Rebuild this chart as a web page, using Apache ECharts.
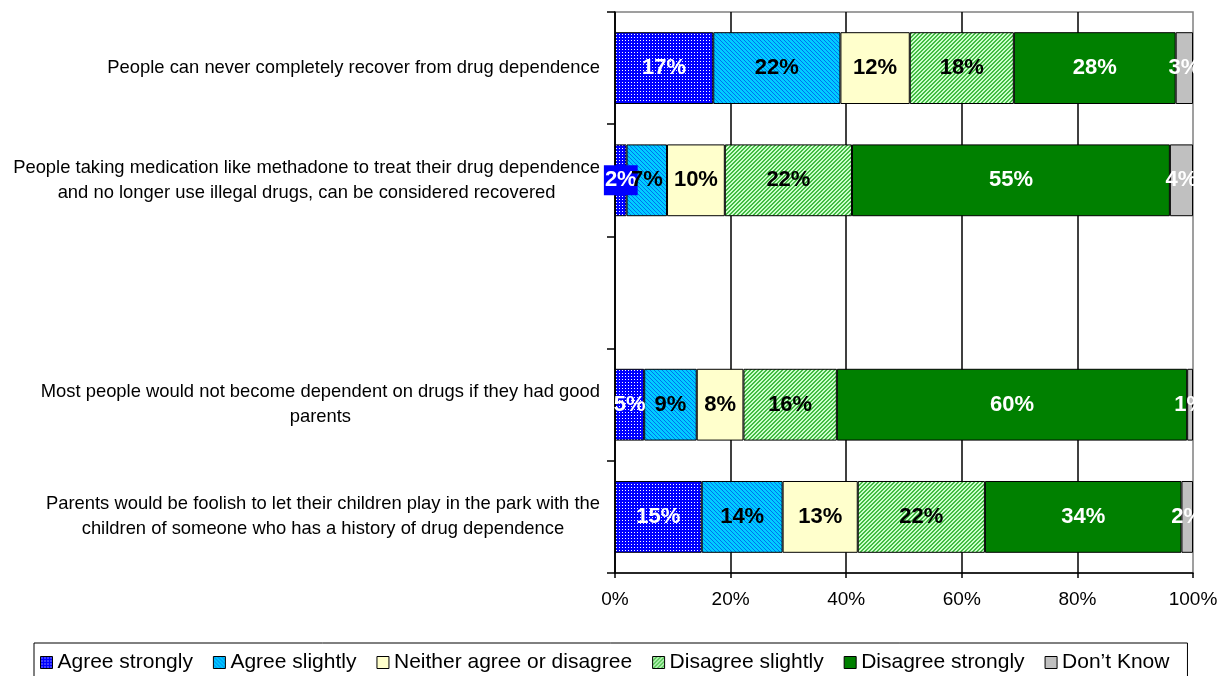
<!DOCTYPE html>
<html>
<head>
<meta charset="utf-8">
<script src="https://cdn.jsdelivr.net/npm/echarts@6/dist/echarts.min.js"></script>
<style>
  html, body { margin: 0; padding: 0; background: #fff; }
  #chart { width: 1228px; height: 676px; }
</style>
</head>
<body>
<div id="chart"></div>
<script>
const FONT = "'Liberation Sans', Arial, sans-serif";

const categories = [
  'People can never completely recover from drug dependence',
  'People taking medication like methadone to treat their drug dependence\nand no longer use illegal drugs, can be considered recovered',
  '',
  'Most people would not become dependent on drugs if they had good\nparents',
  'Parents would be foolish to let their children play in the park with the\nchildren of someone who has a history of drug dependence'
];

const seriesNames = [
  'Agree strongly',
  'Agree slightly',
  'Neither agree or disagree',
  'Disagree slightly',
  'Disagree strongly',
  'Don\u2019t Know'
];

// percentages as printed on the bars (row order = categories)
const agreeStrongly    = [17, 2, null, 5, 15];
const agreeSlightly    = [22, 7, null, 9, 14];
const neither          = [12, 10, null, 8, 13];
const disagreeSlightly = [18, 22, null, 16, 22];
const disagreeStrongly = [28, 55, null, 60, 34];
const dontKnow         = [3, 4, null, 1, 2];

const xTickLabels = ['0%', '20%', '40%', '60%', '80%', '100%'];

const allValues = [agreeStrongly, agreeSlightly, neither, disagreeSlightly, disagreeStrongly, dontKnow];

// 100% stacked: each row is scaled to its own total
const rowTotals = categories.map((c, i) =>
  allValues.reduce((s, arr) => s + (arr[i] || 0), 0));

function makePattern(bg, fg, kind) {
  const size = kind === 'dots' ? 3 : 4;
  const c = document.createElement('canvas');
  c.width = size;
  c.height = size;
  const ctx = c.getContext('2d');
  ctx.fillStyle = bg;
  ctx.fillRect(0, 0, size, size);
  ctx.fillStyle = fg;
  if (kind === 'dots') {
    ctx.fillRect(1, 1, 1, 1);
  } else {
    const thick = kind === 'up' ? 2 : 1;
    for (let i = 0; i < size; i++) {
      const x = kind === 'down' ? i : size - 1 - i;
      for (let t = 0; t < thick; t++) {
        ctx.fillRect((x + t) % size, i, 1, 1);
      }
    }
  }
  return { image: c, repeat: 'repeat' };
}

const fills = [
  makePattern('#0000FF', '#FFFFFF', 'dots'),
  makePattern('#00CCFF', '#0070F0', 'down'),
  '#FFFFCC',
  makePattern('#CCFFCC', '#44BB44', 'up'),
  '#008000',
  '#C0C0C0'
];
const labelColors = ['#fff', '#000', '#000', '#000', '#fff', '#fff'];

const series = allValues.map((values, s) => ({
  name: seriesNames[s],
  type: 'bar',
  stack: 'total',
  barWidth: '64%',
  itemStyle: {
    color: fills[s],
    borderColor: '#000',
    borderWidth: 1
  },
  label: {
    show: true,
    position: 'inside',
    color: labelColors[s],
    fontFamily: FONT,
    fontWeight: 'bold',
    fontSize: 22,
    textBorderWidth: 0,
    formatter: p => p.data.raw + '%'
  },
  data: values.map((v, i) => {
    if (v == null) return null;
    const item = { value: v / rowTotals[i] * 100, raw: v };
    // the tiny first segment gets a filled label box
    if (s === 0 && v < 4) {
      item.label = { backgroundColor: '#0000FF', padding: [4, 1] };
    }
    return item;
  })
}));

const chart = echarts.init(document.getElementById('chart'));
chart.setOption({
  animation: false,
  backgroundColor: '#fff',
  textStyle: { fontFamily: FONT },
  grid: {
    left: 615,
    right: 35,
    top: 12,
    bottom: 103,
    show: true,
    borderColor: '#808080',
    borderWidth: 1.5
  },
  legend: {
    left: 34,
    top: 643,
    orient: 'horizontal',
    icon: 'rect',
    itemWidth: 12,
    itemHeight: 12,
    itemGap: 20,
    padding: [9, 18, 9, 6],
    borderColor: '#000',
    borderWidth: 1,
    itemStyle: { borderColor: '#000', borderWidth: 1 },
    textStyle: { color: '#000', fontSize: 21, fontFamily: FONT },
    data: seriesNames
  },
  xAxis: {
    type: 'value',
    min: 0,
    max: 100,
    interval: 20,
    axisLine: { show: true, lineStyle: { color: '#000', width: 1.5 } },
    axisTick: { show: true, length: 5, lineStyle: { color: '#000', width: 1.5 } },
    axisLabel: {
      color: '#000',
      fontSize: 19,
      margin: 17,
      formatter: v => xTickLabels[Math.round(v / 20)]
    },
    splitLine: {
      show: true,
      showMaxLine: false,
      lineStyle: { color: '#000', width: 1.5 }
    }
  },
  yAxis: {
    type: 'category',
    inverse: true,
    data: categories,
    axisLine: { show: true, lineStyle: { color: '#000', width: 1.5 } },
    axisTick: { show: true, length: 8, lineStyle: { color: '#000', width: 1.5 } },
    axisLabel: {
      color: '#000',
      margin: 15,
      formatter: v => v.split('\n').map(l => '{c|' + l + '}').join('\n'),
      rich: {
        c: { align: 'center', fontSize: 18.4, lineHeight: 25, color: '#000', fontFamily: FONT }
      }
    },
    splitLine: { show: false }
  },
  series: series
});
</script>
</body>
</html>
